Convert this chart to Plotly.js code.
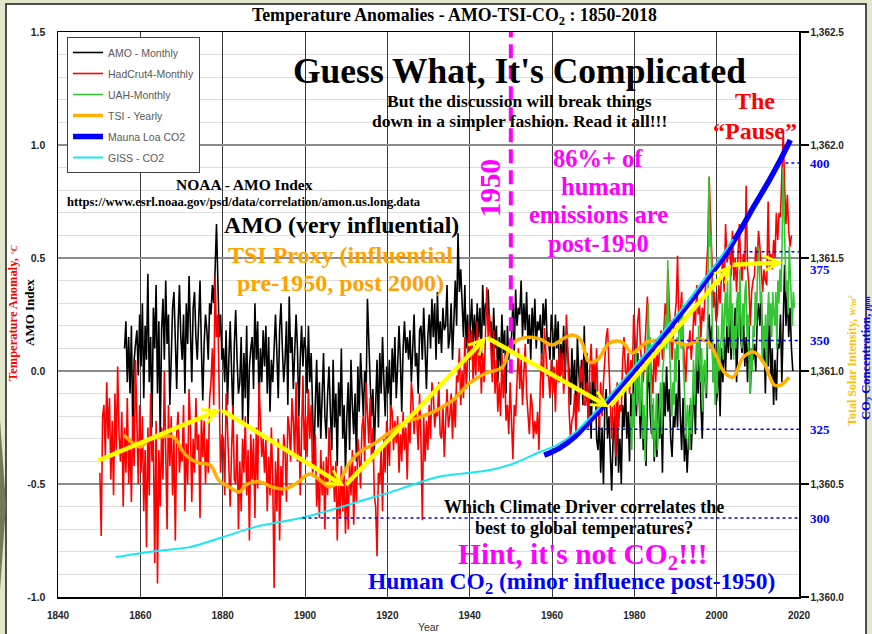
<!DOCTYPE html>
<html><head><meta charset="utf-8">
<script src="https://cdn.plot.ly/plotly-3.0.1.min.js"></script>
<style>html,body{margin:0;padding:0;background:#e3e6cc;}#chart{width:872px;height:634px;}</style>
</head><body><div id="chart"></div>
<script>
// ---------------- DATA ----------------
const yearTicks = [1840,1860,1880,1900,1920,1940,1960,1980,2000,2020];
const yearTickText = ['1840','1860','1880','1900','1920','1940','1960','1980','2000','2020'];
const tempTickVals = [-1,-0.5,0,0.5,1,1.5];
const tempTickText = ['-1.0','-0.5','0.0','0.5','1.0','1.5'];
const tsiTickVals = [1360,1360.5,1361,1361.5,1362,1362.5];
const tsiTickText = ['1,360.0','1,360.5','1,361.0','1,361.5','1,362.0','1,362.5'];
const co2Levels = [300,325,350,375,400];
const co2LevelFrom = [1899.4,1968.4,1989.8,2003.6,2016.7];
const markerYear = 1950;

// HadCrut4 monthly (sampled 3 per year from 1850)
const hadcrutStart = 1850, hadcrutPerYear = 3;
const hadcrutValues = [
-0.45,-0.73,-0.20,-0.15,-0.38,-0.05,-0.30,-0.12,-0.48,-0.22,-0.55,-0.10,-0.35,0.02,-0.28,-0.40,-0.18,-0.60,-0.25,-0.45,-0.12,-0.50,-0.30,-0.58,-0.20,-0.42,0.05,-0.28,-0.50,-0.15,
-0.45,-0.20,-0.62,-0.35,-0.78,-0.25,-0.55,-0.10,-0.40,-0.30,-0.85,-0.22,-0.94,-0.35,-0.60,-0.25,-0.48,0.00,-0.38,-0.70,-0.15,-0.42,-0.20,-0.55,-0.30,-0.75,-0.28,-0.18,-0.45,-0.35,
-0.40,-0.15,-0.62,-0.32,-0.50,-0.08,-0.25,-0.58,-0.30,-0.45,-0.12,-0.35,-0.28,-0.65,-0.20,-0.38,-0.22,-0.50,-0.30,-0.45,-0.12,-0.05,0.10,-0.15,0.42,0.15,0.25,-0.20,-0.45,-0.28,
-0.30,-0.55,-0.10,-0.25,-0.42,-0.60,-0.35,-0.15,-0.48,-0.50,-0.28,-0.70,-0.40,-0.62,-0.30,-0.45,-0.20,-0.55,-0.35,-0.75,-0.28,-0.48,-0.30,-0.65,-0.25,-0.52,-0.05,-0.18,-0.38,-0.30,
-0.45,-0.30,-0.62,-0.38,-0.55,-0.25,-0.48,-0.96,-0.40,-0.62,-0.30,-0.75,-0.42,-0.55,-0.28,-0.35,-0.58,-0.20,-0.25,-0.40,-0.12,-0.22,-0.38,-0.05,-0.40,-0.20,-0.55,-0.28,-0.02,-0.35,
-0.20,-0.38,-0.08,-0.30,-0.15,-0.45,-0.42,-0.28,-0.60,-0.48,-0.65,-0.35,-0.55,-0.40,-0.70,-0.38,-0.55,-0.25,-0.35,-0.50,-0.42,-0.58,-0.40,-0.75,-0.50,-0.65,-0.42,-0.62,-0.45,-0.72,
-0.48,-0.70,-0.40,-0.55,-0.35,-0.68,-0.42,-0.58,-0.30,-0.38,-0.52,-0.25,-0.20,-0.40,-0.05,-0.18,-0.32,-0.12,-0.40,-0.25,-0.55,-0.60,-0.82,-0.45,-0.50,-0.35,-0.62,-0.30,-0.45,-0.22,
-0.28,-0.42,-0.15,-0.18,-0.35,-0.22,-0.32,-0.20,-0.45,-0.28,-0.40,-0.18,-0.35,-0.25,-0.48,-0.20,-0.32,-0.05,-0.12,-0.28,-0.18,-0.22,-0.35,-0.10,-0.30,-0.66,-0.20,-0.40,-0.22,-0.35,
-0.15,-0.30,-0.05,-0.10,-0.25,-0.18,-0.20,-0.05,-0.28,-0.30,-0.15,-0.38,-0.18,-0.08,-0.25,-0.20,-0.10,-0.30,-0.12,-0.25,-0.02,-0.05,0.10,-0.15,0.00,-0.12,0.15,-0.08,0.05,0.20,
0.05,0.18,-0.05,0.10,-0.02,0.22,0.00,0.12,-0.10,0.08,-0.05,0.20,0.37,0.15,0.25,0.10,-0.05,0.18,-0.10,0.05,-0.18,-0.05,-0.20,0.08,-0.12,0.02,-0.22,-0.15,-0.28,-0.05,
-0.25,-0.39,-0.15,-0.20,-0.05,0.10,-0.08,0.05,-0.15,0.02,0.12,-0.10,-0.18,-0.28,-0.10,-0.15,-0.30,-0.22,-0.28,-0.18,-0.35,-0.05,0.08,-0.12,0.19,0.05,-0.02,-0.02,-0.12,0.05,
-0.10,0.02,-0.18,0.05,-0.05,0.10,-0.02,0.08,-0.10,0.00,0.25,0.10,-0.18,-0.30,-0.22,-0.20,-0.10,-0.28,-0.08,-0.18,0.02,-0.05,0.05,-0.15,-0.15,-0.05,-0.25,0.00,0.12,-0.05,
0.05,-0.08,0.10,-0.15,-0.25,-0.05,-0.20,-0.05,0.08,0.15,0.19,0.02,-0.20,-0.30,-0.12,-0.10,-0.38,-0.05,-0.25,-0.15,-0.18,0.05,0.15,0.00,-0.02,0.08,-0.10,0.05,-0.05,0.25,
0.15,0.05,0.22,0.28,0.10,0.02,-0.05,0.08,0.18,0.33,0.15,0.05,0.00,-0.10,0.12,-0.05,0.08,0.02,0.10,0.18,0.05,0.20,0.30,0.22,0.45,0.28,0.15,0.05,0.18,0.25,
0.30,0.51,0.20,0.25,0.35,0.15,0.05,-0.05,0.12,0.10,0.18,0.05,0.15,0.28,0.20,0.38,0.25,0.30,0.15,0.28,0.22,0.35,0.48,0.55,0.86,0.62,0.50,0.28,0.35,0.22,
0.25,0.38,0.30,0.42,0.50,0.35,0.65,0.48,0.52,0.55,0.42,0.62,0.40,0.50,0.35,0.55,0.65,0.48,0.40,0.52,0.45,0.82,0.45,0.38,0.20,0.35,0.40,0.42,0.55,0.48,
0.62,0.55,0.42,0.35,0.45,0.40,0.38,0.75,0.45,0.52,0.45,0.58,0.50,0.70,0.58,0.70,0.68,0.85,1.06,0.82,0.65,0.78,0.62,0.55,0.60
];

// AMO index monthly (sampled 3 per year from 1856)
const amoStart = 1856, amoPerYear = 3;
const amoValues = [
0.10,0.22,-0.05,0.15,-0.10,0.20,-0.27,0.05,0.12,0.18,-0.02,0.25,
0.02,0.30,-0.12,0.20,0.05,0.43,-0.05,0.15,-0.25,0.28,0.10,0.38,-0.10,0.22,-0.30,0.18,0.32,0.05,0.40,0.12,0.25,-0.15,0.05,0.28,0.35,0.10,-0.08,0.20,0.38,0.15,
0.05,0.25,-0.10,0.30,0.12,0.42,0.18,-0.05,0.28,0.35,0.15,0.05,0.22,0.40,0.10,-0.13,0.12,0.25,0.18,0.05,0.30,0.25,0.38,0.30,0.45,0.65,0.40,0.15,0.25,0.05,
0.10,-0.05,0.18,-0.15,0.05,0.22,0.00,-0.20,0.12,0.27,0.05,-0.10,-0.05,0.15,-0.22,0.08,-0.12,0.20,-0.25,0.02,0.10,0.15,-0.08,0.30,0.05,0.22,-0.15,0.10,-0.05,0.18,
0.02,0.20,-0.10,0.15,-0.18,0.05,-0.05,0.12,0.25,0.08,-0.12,0.18,0.30,0.10,-0.05,0.05,0.22,-0.15,0.33,0.08,0.15,-0.08,0.12,0.25,0.10,-0.20,0.05,0.20,0.02,0.15,
0.10,-0.10,0.20,-0.05,0.08,-0.20,-0.41,-0.15,0.05,-0.25,-0.05,-0.30,-0.12,0.08,-0.20,-0.30,-0.10,0.02,-0.18,-0.35,0.05,-0.25,-0.10,-0.42,-0.05,-0.20,0.10,-0.30,-0.15,-0.45,
-0.20,-0.05,-0.35,0.05,-0.15,-0.28,-0.10,-0.40,0.02,-0.18,0.08,-0.05,-0.20,0.00,-0.12,0.32,0.10,-0.05,-0.20,-0.08,-0.35,-0.15,0.05,-0.25,0.08,-0.10,0.15,-0.05,-0.20,0.02,
-0.10,0.05,-0.20,0.10,-0.05,0.15,-0.12,0.02,0.20,0.05,-0.18,0.10,0.22,0.08,0.15,0.05,0.18,-0.05,0.12,0.25,0.02,0.08,-0.10,0.18,0.20,0.05,0.28,0.10,-0.08,0.15,
0.25,0.10,0.32,0.15,0.30,0.05,0.35,0.12,0.22,0.08,0.28,0.18,0.20,0.38,0.10,0.15,0.30,0.05,0.25,0.40,0.20,0.61,0.35,0.45,0.30,0.15,0.38,0.10,0.25,0.05,
0.20,0.32,0.12,0.25,0.10,0.30,0.15,0.28,0.05,0.38,0.20,0.30,0.28,0.36,0.18,0.22,0.05,0.28,0.10,0.20,-0.05,0.15,0.02,0.25,0.08,0.18,-0.10,0.20,0.05,0.12,
0.15,0.30,0.08,0.36,0.20,0.28,0.25,0.40,0.15,0.30,0.18,0.35,0.12,0.25,0.05,0.28,0.15,0.32,0.10,0.22,0.18,0.25,0.05,0.30,0.20,0.32,0.12,0.15,0.05,0.25,
0.18,0.05,0.25,0.10,0.22,-0.05,0.12,0.02,0.20,-0.05,0.15,0.08,0.00,-0.15,0.10,-0.08,0.05,-0.20,0.15,0.00,-0.10,0.05,-0.15,0.20,-0.12,0.08,-0.25,-0.05,-0.30,0.00,
-0.15,0.02,-0.30,-0.35,-0.20,-0.45,-0.25,-0.50,-0.15,-0.08,-0.30,-0.20,-0.40,-0.53,-0.30,-0.20,-0.42,-0.10,-0.45,-0.30,-0.50,-0.15,-0.25,-0.05,-0.30,-0.18,-0.40,-0.10,-0.25,0.00,
-0.05,-0.20,0.08,-0.15,-0.30,-0.05,-0.35,-0.20,-0.42,-0.10,0.05,-0.18,-0.28,-0.15,-0.40,-0.22,-0.38,-0.10,-0.30,-0.15,-0.45,-0.05,-0.20,0.02,-0.18,-0.08,-0.30,-0.38,-0.20,-0.25,
-0.10,-0.25,0.05,-0.20,-0.35,-0.12,-0.40,-0.28,-0.45,-0.30,-0.15,-0.35,-0.20,-0.05,-0.28,0.05,-0.10,0.15,-0.15,-0.30,-0.05,0.02,-0.12,0.18,0.25,0.10,0.20,-0.05,0.12,-0.15,
-0.10,0.05,-0.20,0.10,-0.05,0.15,0.00,0.20,0.08,0.25,0.05,0.18,0.10,0.28,-0.05,0.20,0.35,0.15,0.08,0.25,0.02,0.15,-0.05,0.20,-0.10,0.10,0.05,0.12,0.00,0.22,
0.30,0.20,0.35,0.05,0.15,-0.10,0.18,0.02,0.25,-0.05,0.10,-0.15,0.05,-0.13,0.12,0.10,0.25,-0.05,0.30,0.47,0.20,0.35,0.15,0.28,0.10,0.00
];

// UAH monthly (sampled 4 per year from 1979)
const uahStart = 1979, uahPerYear = 4;
const uahValues = [
-0.20,-0.35,-0.10,-0.25, -0.05,0.10,-0.15,-0.08, 0.05,-0.20,-0.10,0.02, -0.30,-0.15,-0.40,-0.22, 0.10,0.30,-0.05,0.15,
-0.18,-0.30,-0.12,-0.38, -0.25,-0.10,-0.35,-0.20, -0.15,-0.05,-0.28,0.00, 0.05,0.15,0.25,0.10, 0.49,0.20,0.05,-0.10,
-0.20,-0.05,-0.15,0.10, -0.05,0.15,0.05,0.20, 0.25,0.10,0.30,0.05, -0.10,-0.25,-0.30,-0.15, -0.20,-0.35,-0.12,-0.28,
-0.10,0.05,-0.15,0.08, 0.15,0.00,0.20,0.05, -0.05,0.10,-0.18,0.02, 0.05,-0.10,0.15,0.25, 0.86,0.55,0.60,0.35,
-0.05,0.10,-0.15,0.05, -0.10,0.20,0.00,0.10, 0.15,0.30,0.05,0.25, 0.35,0.20,0.40,0.15, 0.25,0.45,0.10,0.30,
0.05,0.20,0.10,0.30, 0.35,0.15,0.45,0.25, 0.10,0.30,0.20,0.35, 0.40,0.15,0.25,0.05, -0.10,0.10,0.00,0.20,
0.15,0.35,0.20,0.40, 0.55,0.45,0.30,0.35, 0.05,0.20,0.10,0.25, 0.00,0.25,0.35,0.20, 0.30,0.15,0.35,0.25,
0.20,0.35,0.10,0.40, 0.30,0.45,0.35,0.55, 0.90,0.70,0.45,0.35, 0.40,0.25,0.55,0.45, 0.30,0.20,0.35,0.28
];

// TSI yearly proxy (W/m2)
const tsiYears = [1856,1860,1862,1865,1868,1871,1874,1877,1879,1882,1884,1886,1889,1892,1895,1898,1901,1903,1906,1908.5,1910.5,1913,1917,1920,1924,1928,1932,1936,1940,1944,1948,1950,1953,1957,1960,1963,1965,1967,1969,1971,1974,1977,1979.5,1983,1986,1989,1992.5,1996,1998,2000,2002,2004,2006.5,2009,2011.5,2014,2015.6,2017.6];
const tsiValues = [1360.717,1360.664,1360.695,1360.708,1360.708,1360.628,1360.593,1360.584,1360.518,1360.482,1360.465,1360.500,1360.509,1360.487,1360.478,1360.504,1360.544,1360.527,1360.487,1360.518,1360.584,1360.637,1360.681,1360.721,1360.770,1360.796,1360.827,1360.872,1360.947,1360.991,1361.018,1361.115,1361.146,1361.142,1361.115,1361.146,1361.159,1361.137,1361.040,1361.049,1361.124,1361.128,1361.080,1361.128,1361.137,1361.137,1361.115,1361.137,1361.128,1361.062,1360.991,1360.973,1361.062,1361.084,1361.035,1360.938,1360.938,1360.973];

// GISS CO2 (ppm)
const gissYears = [1854,1860,1866,1872,1880,1888,1899,1908,1914,1920,1926,1932,1938,1945,1951,1957,1961,1965,1969,1973,1977,1981,1985,1989,1993,1997,2001,2004];
const gissPpm = [289.0,290.1,291.0,291.8,294.6,297.5,300.0,302.8,305.0,307.0,309.3,311.5,312.5,313.5,315.5,318.6,320.4,323.5,328.0,333.0,338.5,344.0,349.5,355.3,361.0,367.3,373.5,378.6];

// Mauna Loa CO2 (ppm)
const maunaYears = [1958.1,1961.8,1965.4,1969.1,1972.7,1976.4,1980.0,1983.7,1987.3,1991.0,1994.6,1998.2,2001.9,2005.5,2009.1,2012.8,2015.7,2017.9];
const maunaPpm = [317.7,319.7,322.8,327.3,331.8,336.6,341.7,346.8,351.8,357.2,362.5,368.2,373.8,380.6,387.9,395.2,401.4,406.5];

// Yellow trend arrows (vertices)
const trendYears = [1849.3,1879.5,1909.6,1944.0,1973.9,2003.6,2016.0];
const trendValues = [-0.40,-0.17,-0.51,0.15,-0.16,0.47,0.48];

// ---------------- HELPERS ----------------
const SERIF = 'Liberation Serif, Times New Roman, serif';
const SANS = 'Liberation Sans, Arial, sans-serif';
const PL = 58, PR = 799, PT = 32, PB = 597;
const px = x => (x - PL) / (PR - PL);
const py = y => (PB - y) / (PB - PT);
const seriesX = (start, per, n) => Array.from({length: n}, (_, i) => start + (i + 0.5) / per);

// ---------------- TRACES ----------------
const traces = [
  {name:'AMO - Monthly', x: seriesX(amoStart, amoPerYear, amoValues.length), y: amoValues,
   type:'scatter', mode:'lines', line:{color:'#000000', width:1.6}, legendrank:1, legendgroup:'g1'},
  {name:'HadCrut4-Monthly', x: seriesX(hadcrutStart, hadcrutPerYear, hadcrutValues.length), y: hadcrutValues,
   type:'scatter', mode:'lines', line:{color:'#ff0000', width:1.6}, legendrank:2, legendgroup:'g2'},
  {name:'UAH-Monthly', x: seriesX(uahStart, uahPerYear, uahValues.length), y: uahValues,
   type:'scatter', mode:'lines', line:{color:'#33c633', width:1.6}, legendrank:3, legendgroup:'g3'},
  {name:'TSI - Yearly', x: tsiYears, y: tsiValues, yaxis:'y2',
   type:'scatter', mode:'lines', line:{color:'#ffb000', width:3.5, shape:'spline', smoothing:1}, legendrank:4, legendgroup:'g4'},
  {name:'Mauna Loa CO2', x: maunaYears, y: maunaPpm, yaxis:'y3',
   type:'scatter', mode:'lines', line:{color:'#0000ff', width:5.5, shape:'spline'}, legendrank:5, legendgroup:'g5'},
  {name:'GISS - CO2', x: gissYears, y: gissPpm, yaxis:'y3',
   type:'scatter', mode:'lines', line:{color:'#19e6f5', width:2, shape:'spline'}, legendrank:6, legendgroup:'g6'}
];

// ---------------- SHAPES ----------------
const shapes = [
  {type:'rect', xref:'paper', yref:'paper', x0:px(6), x1:px(866), y0:py(650), y1:py(4),
   fillcolor:'#ffffff', line:{color:'#1a1a1a', width:1.5}, layer:'below'},
  {type:'path', xref:'paper', yref:'paper', layer:'below',
   path:`M ${px(0)},${py(420)} L ${px(6)},${py(505)} L ${px(0)},${py(590)} Z`,
   fillcolor:'#76765a', line:{width:0}},
  {type:'line', xref:'x', yref:'y', x0:markerYear, x1:markerYear, y0:-0.01, y1:1.5,
   line:{color:'#ff00ff', width:4, dash:'14px,7px'}, layer:'above'}
];
co2Levels.forEach((lv, i) => shapes.push({
  type:'line', xref:'x', yref:'y3', x0:co2LevelFrom[i], x1:2020, y0:lv, y1:lv,
  line:{color:'#0000ff', width:1.5, dash:'dot'}, layer:'above'}));

// ---------------- ANNOTATIONS ----------------
const ann = [];
const txt = (text, x, y, size, color, extra) => ann.push(Object.assign({
  text, xref:'paper', yref:'paper', x:px(x), y:py(y), xanchor:'center', yanchor:'middle',
  showarrow:false, font:{family:SERIF, size, color, weight:'bold'}}, extra || {}));
const lines = (arr, x, y0, dy, size, color) => arr.forEach((t, i) => txt(t, x, y0 + i*dy, size, color));

txt('Temperature Anomalies - AMO-TSI-CO<sub>2</sub> : 1850-2018', 455, 17, 17.8, '#000');
txt('Guess What, It\'s Complicated', 519, 71, 35.5, '#000');
lines(['But the discussion will break things', 'down in a simpler fashion. Read it all!!!'], 519, 101, 20, 17.5, '#000');
lines(['The', '\u201cPause\u201d'], 755, 101, 30, 24, '#ff0000');
lines(['86%+ of', 'human', 'emissions are', 'post-1950'], 598, 158, 28.4, 24.5, '#ff00ff');
txt('NOAA - AMO Index', 244, 185, 15.5, '#000');
txt('https://www.esrl.noaa.gov/psd/data/correlation/amon.us.long.data', 244, 202, 12.6, '#000');
txt('AMO (very influential)', 341, 225, 23.8, '#000');
lines(['TSI Proxy (influential', 'pre-1950, post 2000)'], 340, 255, 28, 24, '#ffa200');
lines(['Which Climate Driver correlates the', 'best to global temperatures?'], 584, 507, 21, 18, '#000');
txt('Hint, it\'s not CO<sub>2</sub>!!!', 583, 556, 29.5, '#ff00ff');
txt('Human CO<sub>2</sub> (minor influence post-1950)', 571, 583, 23.5, '#0000ff');
txt(String(markerYear), 490, 188, 29, '#ff00ff', {textangle:-90});
txt('Temperature Anomaly, <i><span style="font-size:9px">\u00b0C</span></i>', 13, 313, 12.5, '#ff0000', {textangle:-90});
txt('AMO Index', 29, 313, 13, '#000', {textangle:-90});
txt('Total Solar Intensity, <i><span style="font-size:9px">W/m<sup>2</sup></span></i>', 852, 360, 12, '#ffc000', {textangle:-90});
txt('CO<sub>2</sub> Concentration, <i><span style="font-size:8px">ppm</span></i>', 867, 358, 12.5, '#0000ff', {textangle:-90});

// CO2 level labels on the right
const co2LabelShift = [0,0,0,-18,0];
co2Levels.forEach((lv, i) => ann.push({
  text:String(lv), xref:'paper', yref:'y3', x:px(808), y:lv, yshift:co2LabelShift[i],
  xanchor:'left', yanchor:'middle', showarrow:false,
  font:{family:SERIF, size:13, color:'#0000ff', weight:'bold'}}));

// Yellow trend arrows
for (let i = 0; i < trendYears.length - 1; i++) {
  ann.push({text:'', xref:'x', yref:'y', axref:'x', ayref:'y',
    x:trendYears[i+1], y:trendValues[i+1], ax:trendYears[i], ay:trendValues[i],
    showarrow:true, arrowhead:5, arrowsize:0.65, arrowwidth:4.5, arrowcolor:'#ffff00', standoff:0});
}

const tickFontBold = {family:SANS, size:10, color:'#262626', weight:'bold'};
const layout = {
  width:872, height:634,
  margin:{l:58, r:73, t:32, b:37, pad:0},
  paper_bgcolor:'#e3e6cc', plot_bgcolor:'#ffffff',
  font:{family:SANS, size:10, color:'#222'},
  hovermode:false,
  showlegend:true,
  legend:{x:px(67), y:py(37), xanchor:'left', yanchor:'top', bgcolor:'#ffffff',
    bordercolor:'#404040', borderwidth:1, tracegroupgap:2, itemwidth:30,
    font:{family:SANS, size:10.5, color:'#595959'}},
  xaxis:{range:[1840,2020], tickmode:'array', tickvals:yearTicks, ticktext:yearTickText,
    showgrid:true, gridcolor:'#3a3a3a', gridwidth:1, zeroline:false,
    showline:true, linecolor:'#000', linewidth:1.5, mirror:true, ticks:'',
    tickfont:tickFontBold, ticklabelstandoff:8,
    title:{text:'Year', font:{family:SANS, size:10.5, color:'#333'}, standoff:4}},
  yaxis:{range:[-1,1.5], tickmode:'array', tickvals:tempTickVals, ticktext:tempTickText,
    showgrid:true, gridcolor:'#8c8c8c', gridwidth:1.5,
    minor:{tickmode:'linear', tick0:-1, dtick:0.1, showgrid:true, gridcolor:'#dedede', gridwidth:1, ticks:''},
    zeroline:false, showline:true, linecolor:'#000', linewidth:1.5, ticks:'',
    tickfont:Object.assign({}, tickFontBold, {size:10.5}), ticklabelstandoff:9},
  yaxis2:{overlaying:'y', side:'right', anchor:'x', range:[1360,1362.5],
    tickmode:'array', tickvals:tsiTickVals, ticktext:tsiTickText,
    showgrid:false, zeroline:false, showline:true, linecolor:'#000', linewidth:1.5,
    ticks:'outside', ticklen:8, tickwidth:1.2, tickcolor:'#000', tickfont:tickFontBold},
  yaxis3:{overlaying:'y', side:'right', anchor:'x', range:[277.75,436.9],
    showticklabels:false, showgrid:false, zeroline:false, showline:false, ticks:''},
  shapes, annotations:ann
};

Plotly.newPlot('chart', traces, layout, {displayModeBar:false, staticPlot:true});
</script></body></html>
